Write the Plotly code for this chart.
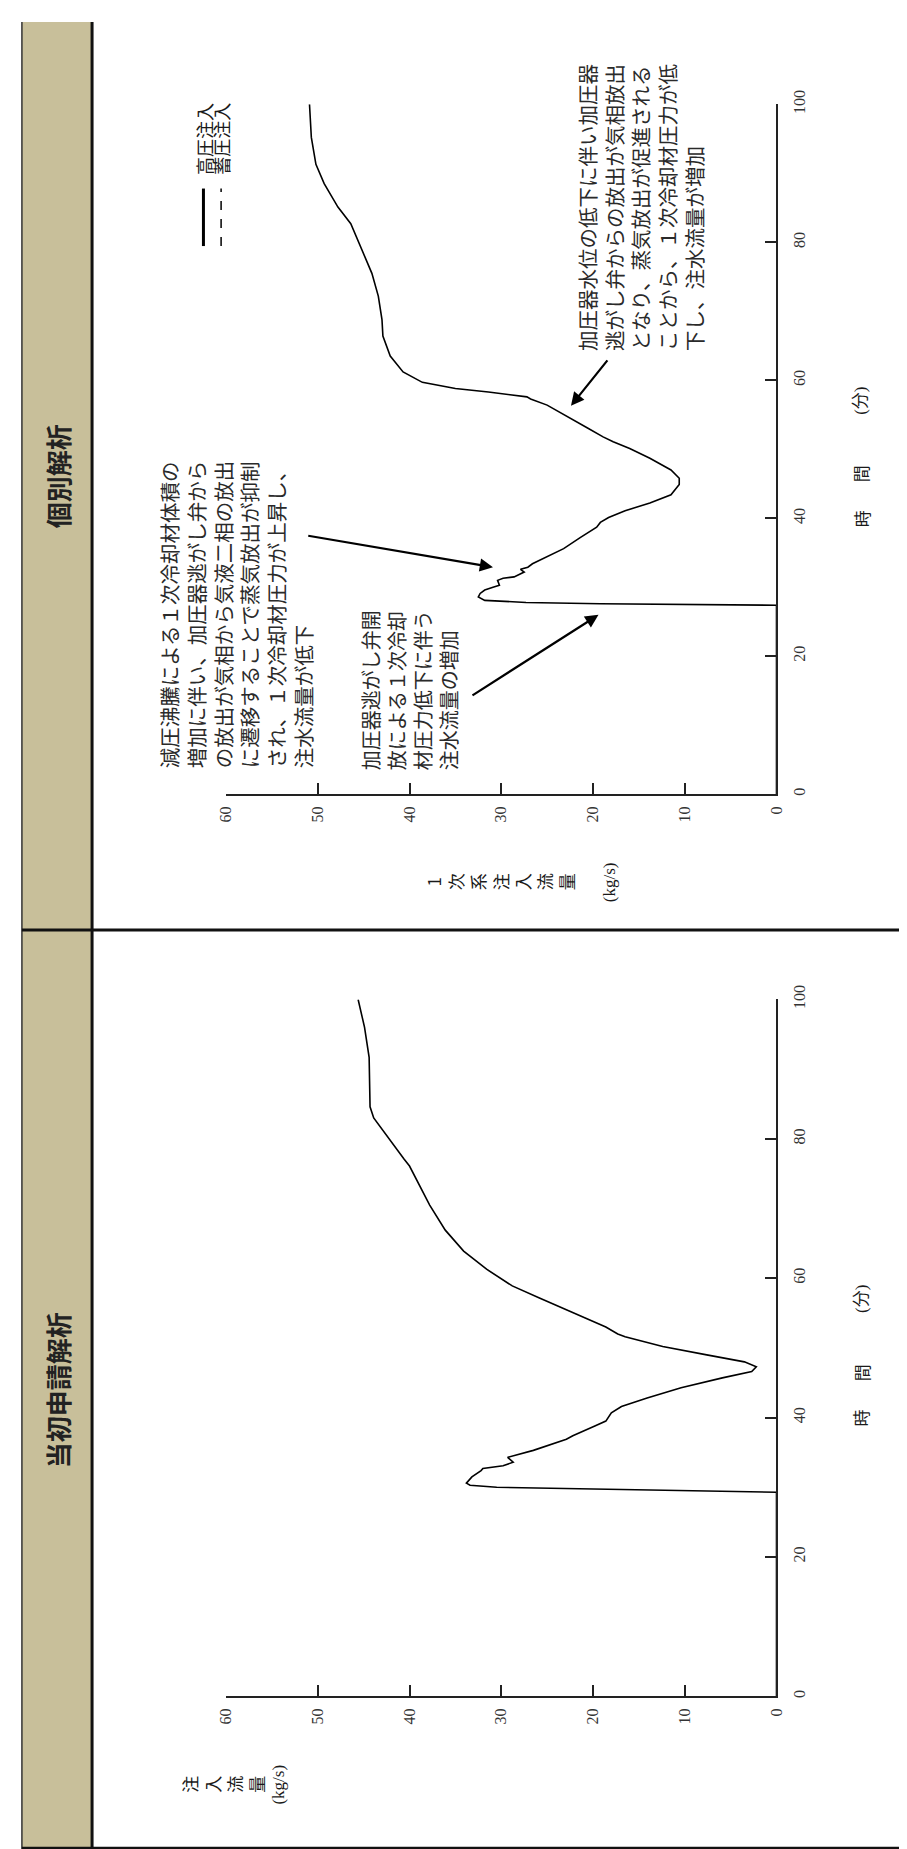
import plotly.graph_objects as go

# ---------------- data ----------------
TIME_TICKS = [0, 20, 40, 60, 80, 100]
FLOW_TICKS = [0, 10, 20, 30, 40, 50, 60]

# 個別解析 (upper panel): time [min], flow [kg/s]
t_indiv = [0, 27.4, 27.6, 27.8, 28.1, 28.6, 29.1, 29.6, 30.0, 30.3, 31.0, 31.3, 31.5,
           32.2, 32.6, 32.9, 33.4, 34.1, 35.6, 37.2, 38.2, 38.7, 39.4, 40.1, 41.1,
           42.2, 43.4, 44.9, 45.8, 47.0, 48.7, 50.1, 51.1, 51.8, 53.0, 54.7, 56.4,
           57.3, 57.6, 58.3, 58.8, 59.7, 61.2, 63.5, 66.4, 68.8, 72.2, 75.5, 79.4,
           82.7, 85.1, 88.5, 91.3, 95.2, 100]
f_indiv = [0, 0, 19.2, 27.3, 31.8, 32.5, 32.3, 31.8, 30.9, 30.2, 30.4, 29.8, 28.6,
           27.5, 27.9, 27.1, 26.6, 25.5, 23.2, 21.4, 20.1, 19.6, 19.2, 18.3, 16.5,
           13.8, 11.5, 10.6, 10.6, 11.5, 13.8, 16.0, 17.8, 18.9, 20.5, 22.8, 25.0,
           26.8, 27.2, 31.4, 35.0, 38.6, 40.7, 42.1, 42.9, 43.0, 43.4, 44.1, 45.3,
           46.4, 47.8, 49.3, 50.2, 50.7, 50.9]

# 当初申請解析 (lower panel)
t_init = [0, 29.3, 30.0, 30.3, 30.6, 31.5, 32.4, 32.7, 33.1, 33.6, 34.3, 35.3, 36.9,
          37.4, 38.8, 39.5, 40.7, 41.6, 42.8, 44.3, 45.7, 46.6, 47.3, 48.0, 49.0,
          50.2, 51.6, 52.0, 53.0, 53.9, 55.4, 57.2, 58.9, 61.3, 63.9, 66.9, 70.5,
          74.0, 76.1, 77.1, 79.9, 83.0, 84.6, 89.4, 91.7, 96.0, 98.3, 100]
f_init = [0, 0, 30.5, 33.4, 33.8, 33.2, 32.2, 32.0, 29.8, 28.7, 29.3, 26.5, 22.9,
          22.2, 19.8, 18.6, 18.0, 16.9, 14.1, 10.4, 5.9, 2.7, 2.2, 3.5, 7.6,
          12.4, 16.5, 17.3, 18.6, 20.2, 22.7, 25.9, 28.8, 31.6, 34.1, 36.1, 37.8,
          39.2, 40.0, 40.6, 42.2, 43.9, 44.3, 44.4, 44.4, 44.9, 45.3, 45.6]

HEADER_UPPER = "個別解析"
HEADER_LOWER = "当初申請解析"
LEGEND_LABELS = ["高圧注入", "蓄圧注入"]

NOTE_1 = ["減圧沸騰による１次冷却材体積の", "増加に伴い、加圧器逃がし弁から",
          "の放出が気相から気液二相の放出", "に遷移することで蒸気放出が抑制",
          "され、１次冷却材圧力が上昇し、", "注水流量が低下"]
NOTE_2 = ["加圧器逃がし弁開", "放による１次冷却", "材圧力低下に伴う", "注水流量の増加"]
NOTE_3 = ["加圧器水位の低下に伴い加圧器", "逃がし弁からの放出が気相放出",
          "となり、蒸気放出が促進される", "ことから、１次冷却材圧力が低",
          "下し、注水流量が増加"]

# ---------------- layout helpers ----------------
W, H = 907, 1849
def PX(x): return x / W
def PY(y): return 1 - y / H

SERIF = "Liberation Serif, Noto Sans CJK JP"
JP = "Noto Sans CJK JP"
INK = "#1a1a1a"

fig = go.Figure()
fig.add_trace(go.Scatter(x=f_indiv, y=t_indiv, mode="lines", xaxis="x", yaxis="y",
                         line=dict(color="black", width=1.6), showlegend=False))
fig.add_trace(go.Scatter(x=f_init, y=t_init, mode="lines", xaxis="x2", yaxis="y2",
                         line=dict(color="black", width=1.6), showlegend=False))

xdom = [PX(213), PX(774)]
def xax(anchor):
    return dict(domain=xdom, range=[60, 0], anchor=anchor, showline=True,
                linecolor="#222", linewidth=1.5, ticks="inside", ticklen=12,
                tickwidth=1.5, tickcolor="#222", tickvals=FLOW_TICKS, tickangle=-90,
                tickfont=dict(family=SERIF, size=16, color="#333"),
                showgrid=False, zeroline=False, fixedrange=True, ticklabelstandoff=4)
def yax(anchor, dom):
    return dict(domain=dom, range=[0, 100], anchor=anchor, side="right", showline=True,
                linecolor="#222", linewidth=1.5, ticks="inside", ticklen=12,
                tickwidth=1.5, tickcolor="#222", tickvals=TIME_TICKS, tickangle=-90,
                tickfont=dict(family=SERIF, size=16, color="#333"),
                showgrid=False, zeroline=False, fixedrange=True, ticklabelstandoff=8)

shapes = []
# header strip and frame
shapes.append(dict(type="rect", xref="paper", yref="paper", x0=PX(5), x1=PX(76),
                   y0=PY(1843), y1=PY(0), fillcolor="#C8BF9A", line=dict(width=0),
                   layer="below"))
shapes.append(dict(type="line", xref="paper", yref="paper", x0=PX(5), x1=PX(5),
                   y0=PY(1843), y1=PY(0), line=dict(color="#333", width=1.5)))
shapes.append(dict(type="line", xref="paper", yref="paper", x0=PX(76.5), x1=PX(76.5),
                   y0=PY(1843), y1=PY(0), line=dict(color="#111", width=3)))
shapes.append(dict(type="line", xref="paper", yref="paper", x0=PX(5), x1=PX(907),
                   y0=PY(916), y1=PY(916), line=dict(color="#111", width=3)))
shapes.append(dict(type="line", xref="paper", yref="paper", x0=PX(5), x1=PX(907),
                   y0=PY(1842), y1=PY(1842), line=dict(color="#111", width=2.5)))
# legend samples
shapes.append(dict(type="line", xref="paper", yref="paper", x0=PX(190), x1=PX(190),
                   y0=PY(226), y1=PY(168), line=dict(color="black", width=3)))
shapes.append(dict(type="line", xref="paper", yref="paper", x0=PX(208), x1=PX(208),
                   y0=PY(226), y1=PY(168), line=dict(color="black", width=1.5, dash="dash")))

ann = []
def note(lines, x, y, xref="x", yref="y", size=20.5):
    ann.append(dict(text="<br>".join(lines), x=x, y=y, xref=xref, yref=yref,
                    xanchor="left", yanchor="bottom", align="left", textangle=-90,
                    showarrow=False, borderpad=0,
                    font=dict(family=JP, size=size, color="#2a2a2a")))
def arrow(head, tail, xref="x", yref="y"):
    ann.append(dict(text="", x=head[0], y=head[1], ax=tail[0], ay=tail[1], xref=xref,
                    yref=yref, axref=xref, ayref=yref, showarrow=True, arrowhead=2,
                    arrowsize=1.2, arrowwidth=2.2, arrowcolor="black", standoff=0))
def rtext(text, x, y, size, family=JP, xref="paper", yref="paper", xanchor="center",
          yanchor="middle", bold=False, color=INK):
    ann.append(dict(text=(f"<b>{text}</b>" if bold else text), x=x, y=y, xref=xref,
                    yref=yref, xanchor=xanchor, yanchor=yanchor, textangle=-90,
                    showarrow=False, font=dict(family=family, size=size, color=color)))

# headers
rtext(HEADER_UPPER, PX(41), PY(458), 26, bold=True, color="#222")
rtext(HEADER_LOWER, PX(41), PY(1380), 26, bold=True, color="#222")

# notes (upper panel)
note(NOTE_1, PX(139), PY(754), xref="paper", yref="paper")
note(NOTE_2, 45.9, 3.3, size=20)
note(NOTE_3, 22.4, 64.1)
arrow((30.9, 32.9), (51.2, 37.5))
arrow((19.4, 26.0), (33.3, 14.2))
arrow((22.4, 56.3), (18.3, 63.1))

# legend text
rtext(LEGEND_LABELS[0], PX(190), PY(156), 18, yanchor="bottom")
rtext(LEGEND_LABELS[1], PX(208), PY(156), 18, yanchor="bottom")

# axis titles: flow
rtext("1<br>次<br>系<br>注<br>入<br>流<br>量", PX(493), PY(867), 17)
rtext("(kg/s)", PX(604), PY(868), 17, family=SERIF)
rtext("注<br>入<br>流<br>量", PX(210), PY(1778), 17)
rtext("(kg/s)", PX(267), PY(1778), 17, family=SERIF)

# axis titles: time
for yref in ("y", "y2"):
    rtext("時", PX(860), 40, 17, yref=yref)
    rtext("間", PX(860), 46.5, 17, yref=yref)
    rtext("(分)", PX(860), 57, 17, family=SERIF, yref=yref)

fig.update_layout(
    width=W, height=H, margin=dict(l=0, r=0, t=0, b=0),
    paper_bgcolor="white", plot_bgcolor="white", showlegend=False,
    xaxis=xax("y"), yaxis=yax("x", [PY(779), PY(83)]),
    xaxis2=xax("y2"), yaxis2=yax("x2", [PY(1689), PY(986)]),
    shapes=shapes, annotations=ann,
)

fig.write_html("out.html")
